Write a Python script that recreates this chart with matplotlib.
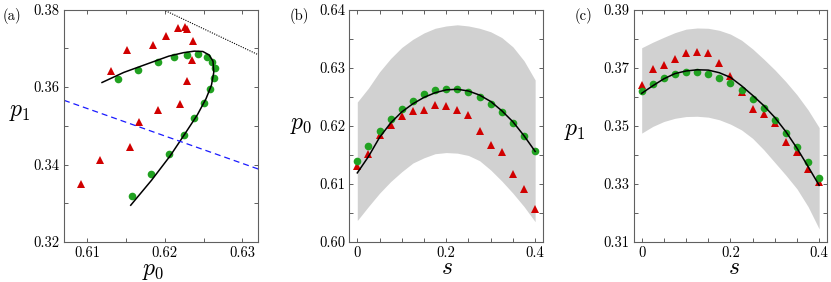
import numpy as np
import matplotlib
matplotlib.use("Agg")
import matplotlib.pyplot as plt
from matplotlib.ticker import MultipleLocator, FixedLocator, FixedFormatter

plt.rcParams['font.family'] = 'serif'
plt.rcParams['font.serif'] = ['cmr10']
plt.rcParams['mathtext.fontset'] = 'cm'
plt.rcParams['axes.formatter.use_mathtext'] = True

# sample points along s
s = [0, 0.025, 0.05, 0.075, 0.1, 0.125, 0.15, 0.175, 0.2,
     0.225, 0.25, 0.275, 0.3, 0.325, 0.35, 0.375, 0.4]

# green circles
p0_green = [0.6139, 0.6166, 0.6191, 0.6212, 0.6229, 0.6243, 0.6254, 0.6261, 0.6264,
            0.6263, 0.6258, 0.6250, 0.6238, 0.6224, 0.6205, 0.6182, 0.6157]
p1_green = [0.3620, 0.3645, 0.3665, 0.3677, 0.3684, 0.3685, 0.3679, 0.3666, 0.3649,
            0.3624, 0.3594, 0.3560, 0.3521, 0.3477, 0.3428, 0.3375, 0.3319]

# red triangles
p0_red = [0.6131, 0.6151, 0.6185, 0.6202, 0.6217, 0.6226, 0.6228, 0.6236, 0.6235,
          0.6228, 0.6219, 0.6191, 0.6167, 0.6155, 0.6117, 0.6092, 0.6057]
p1_red = [0.3642, 0.3696, 0.3708, 0.3731, 0.3752, 0.3756, 0.3751, 0.3718, 0.3671,
          0.3615, 0.3557, 0.3540, 0.3510, 0.3445, 0.3411, 0.3351, 0.3307]

# black fit curve
p0_fit = [0.6119, 0.6147, 0.6180, 0.6205, 0.6224, 0.6238, 0.6249, 0.6257, 0.6262,
          0.6263, 0.6260, 0.6253, 0.6242, 0.6226, 0.6207, 0.6183, 0.6156]
p1_fit = [0.3612, 0.3638, 0.3662, 0.3680, 0.3689, 0.3693, 0.3692, 0.3683, 0.3667,
          0.3638, 0.3605, 0.3570, 0.3529, 0.3480, 0.3423, 0.3360, 0.3295]

# gray bands
p0_upper = [0.6241, 0.6265, 0.6293, 0.6316, 0.6335, 0.6349, 0.6360, 0.6368, 0.6372,
            0.6374, 0.6372, 0.6368, 0.6362, 0.6352, 0.6336, 0.6312, 0.6279]
p0_lower = [0.6037, 0.6061, 0.6084, 0.6104, 0.6121, 0.6136, 0.6145, 0.6152, 0.6154,
            0.6153, 0.6149, 0.6140, 0.6124, 0.6105, 0.6084, 0.6061, 0.6035]
p1_upper = [0.3769, 0.3788, 0.3805, 0.3821, 0.3833, 0.3837, 0.3836, 0.3829, 0.3816,
            0.3795, 0.3765, 0.3730, 0.3693, 0.3652, 0.3607, 0.3555, 0.3494]
p1_lower = [0.3475, 0.3498, 0.3515, 0.3526, 0.3532, 0.3533, 0.3530, 0.3521, 0.3506,
            0.3486, 0.3457, 0.3418, 0.3374, 0.3330, 0.3283, 0.3222, 0.3145]

# straight lines in panel (a)
dot_p0 = [0.6198, 0.6321]
dot_p1 = [0.3800, 0.3683]
dash_p0 = [0.6070, 0.6321]
dash_p1 = [0.3566, 0.3388]

green = '#21a121'
red = '#d10000'
band = '#d1d1d1'
spine = '#606060'

W, H = 831, 282
fig = plt.figure(figsize=(W / 100, H / 100), dpi=100)


def px_axes(left, right, top, bottom):
    return fig.add_axes([left / W, 1 - bottom / H, (right - left) / W, (bottom - top) / H])


def style(ax, xmaj, xlab, xmin, ymaj, ylab, ymin):
    ax.xaxis.set_major_locator(FixedLocator(xmaj))
    ax.xaxis.set_major_formatter(FixedFormatter(xlab))
    ax.xaxis.set_minor_locator(MultipleLocator(xmin))
    ax.yaxis.set_major_locator(FixedLocator(ymaj))
    ax.yaxis.set_major_formatter(FixedFormatter(ylab))
    ax.yaxis.set_minor_locator(MultipleLocator(ymin))
    ax.tick_params(which='both', direction='in', top=True, right=True,
                   length=3, width=0.7, color=spine, labelsize=10.5, pad=3)
    for sp in ax.spines.values():
        sp.set_color(spine)
        sp.set_linewidth(0.8)


# (a)
ax1 = px_axes(64, 258, 9.7, 242)
ax1.plot(p0_red, p1_red, '^', color=red, ms=5.8, mew=0)
ax1.plot(p0_green, p1_green, 'o', color=green, ms=5.5, mew=0)
ax1.plot(p0_fit, p1_fit, '-', color='k', lw=1.1)
ax1.plot(dash_p0, dash_p1, '--', color='#1a1aff', lw=0.9, dashes=(4.8, 3.2))
ax1.plot(dot_p0, dot_p1, ':', color='k', lw=0.8, dashes=(1, 1.2))
ax1.set_xlim(0.607, 0.632)
ax1.set_ylim(0.32, 0.38)
style(ax1, [0.61, 0.62, 0.63], ['0.61', '0.62', '0.63'], 0.005,
      [0.32, 0.34, 0.36, 0.38], ['0.32', '0.34', '0.36', '0.38'], 0.01)
ax1.set_xlabel(r'$p_0$', fontsize=17, va='center')
ax1.xaxis.set_label_coords(0.461, -0.125)
ax1.set_ylabel(r'$p_1$', fontsize=17, rotation=0, ha='center', va='center')
ax1.yaxis.set_label_coords(-0.227, 0.559)

# (b)
ax2 = px_axes(349.3, 542.7, 9.7, 242)
ax2.fill_between(s, p0_lower, p0_upper, color=band, lw=0)
ax2.plot(s, p0_red, '^', color=red, ms=5.8, mew=0)
ax2.plot(s, p0_green, 'o', color=green, ms=5.5, mew=0)
ax2.plot(s, p0_fit, '-', color='k', lw=1.1)
ax2.set_xlim(-0.018, 0.417)
ax2.set_ylim(0.60, 0.64)
style(ax2, [0, 0.2, 0.4], ['0', '0.2', '0.4'], 0.05,
      [0.60, 0.61, 0.62, 0.63, 0.64], ['0.60', '0.61', '0.62', '0.63', '0.64'], 0.005)
ax2.set_xlabel(r'$s$', fontsize=17, va='center')
ax2.xaxis.set_label_coords(0.505, -0.112)
ax2.set_ylabel(r'$p_0$', fontsize=17, rotation=0, ha='center', va='center')
ax2.yaxis.set_label_coords(-0.25, 0.503)

# (c)
ax3 = px_axes(633.7, 826.7, 9.7, 242)
ax3.fill_between(s, p1_lower, p1_upper, color=band, lw=0)
ax3.plot(s, p1_red, '^', color=red, ms=5.8, mew=0)
ax3.plot(s, p1_green, 'o', color=green, ms=5.5, mew=0)
ax3.plot(s, p1_fit, '-', color='k', lw=1.1)
ax3.set_xlim(-0.018, 0.417)
ax3.set_ylim(0.31, 0.39)
style(ax3, [0, 0.2, 0.4], ['0', '0.2', '0.4'], 0.05,
      [0.31, 0.33, 0.35, 0.37, 0.39], ['0.31', '0.33', '0.35', '0.37', '0.39'], 0.01)
ax3.set_xlabel(r'$s$', fontsize=17, va='center')
ax3.xaxis.set_label_coords(0.52, -0.112)
ax3.set_ylabel(r'$p_1$', fontsize=17, rotation=0, ha='center', va='center')
ax3.yaxis.set_label_coords(-0.307, 0.48)

for x0, lab in [(3, '(a)'), (289.7, '(b)'), (574.7, '(c)')]:
    fig.text(x0 / W, 1 - 7.5 / H, lab, fontsize=10.5, ha='left', va='top')

fig.savefig('out.png', dpi=100)
